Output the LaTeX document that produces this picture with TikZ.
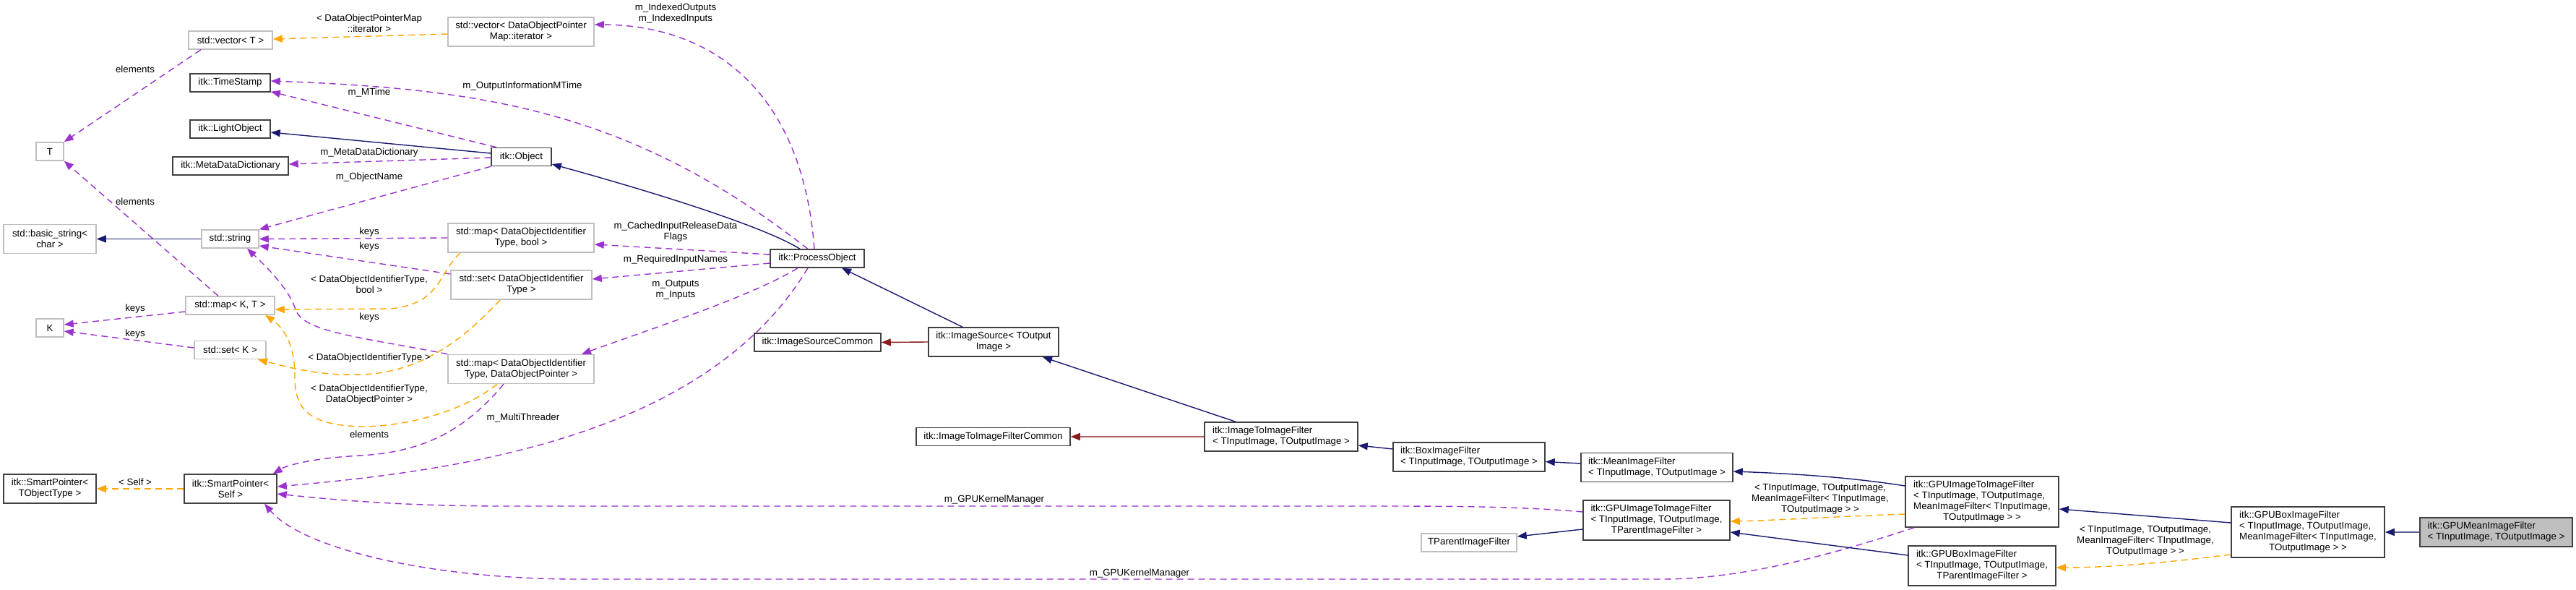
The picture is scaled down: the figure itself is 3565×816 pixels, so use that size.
\documentclass[tikz,border=0pt]{standalone}
\usepackage{fontspec}
\setmainfont{Liberation Sans}
\usetikzlibrary{arrows.meta}
\definecolor{pu}{HTML}{9A32CD}
\definecolor{orng}{HTML}{FFA500}
\definecolor{mblue}{HTML}{191970}
\definecolor{fbrick}{HTML}{8B1A1A}
\definecolor{dborder}{HTML}{404040}
\definecolor{lborder}{HTML}{BFBFBF}
\definecolor{selfill}{HTML}{BFBFBF}
\newcommand{\lbfont}{\fontsize{13.3}{15}\selectfont}
\newcommand{\cl}[1]{\multicolumn{1}{@{}c@{}}{#1}}
\begin{document}
\begin{tikzpicture}[x=1pt,y=-1pt,
  nb/.style={draw, inner sep=0pt, font=\lbfont, align=center, line width=1.5pt},
  dn/.style={nb, draw=dborder},
  un/.style={nb, draw=lborder},
  sz/.style 2 args={minimum width=#1pt, minimum height=#2pt},
  tip/.style={-{Triangle[length=13pt,width=10pt]}},
  use/.style={draw=pu, line width=1.4pt, dash pattern=on 9pt off 6pt, tip},
  tmpl/.style={draw=orng, line width=1.4pt, dash pattern=on 9pt off 6pt, tip},
  inh/.style={draw=mblue, line width=1.4pt, tip},
  inhsoft/.style={draw=mblue!70!white, line width=1.8pt, -{Triangle[length=13pt,width=10pt,color=mblue]}},
  priv/.style={draw=fbrick, line width=1.4pt, tip},
  privsoft/.style={draw=fbrick!70!white, line width=1.8pt, -{Triangle[length=13pt,width=10pt,color=fbrick]}},
  el/.style={font=\lbfont, align=center, inner sep=0pt}]
\useasboundingbox[fill=white] (0,0) rectangle (3565,816);

% nodes
\node[un, sz={116}{25}] (vecT) at (319,55.5) {std::vector< T >};
\node[dn, sz={111}{25}] (ts) at (318.5,114.5) {itk::TimeStamp};
\node[dn, sz={111}{25}] (lo) at (318.5,178.5) {itk::LightObject};
\node[un, sz={38}{25}] (T) at (69,209.5) {T};
\node[dn, sz={160}{25}] (mdd) at (319,229.5) {itk::MetaDataDictionary};
\node[un, sz={128}{40}] (bstr) at (69,330.5) {std::basic\_string<\\char >};
\node[un, sz={79}{25}] (str) at (318.5,330.5) {std::string};
\node[un, sz={123}{25}] (mapKT) at (318.5,422.5) {std::map< K, T >};
\node[un, sz={38}{25}] (K) at (69,453.5) {K};
\node[un, sz={99}{25}] (setK) at (318.5,484) {std::set< K >};
\node[dn, sz={128}{40}] (spT) at (69,676) {itk::SmartPointer<\\TObjectType >};
\node[dn, sz={128}{40}] (spS) at (319,676) {itk::SmartPointer<\\Self >};
\node[un, sz={202}{40}] (vecDO) at (721,44) {std::vector< DataObjectPointer\\Map::iterator >};
\node[dn, sz={83}{25}] (obj) at (721.5,217) {itk::Object};
\node[un, sz={202}{40}] (mapB) at (721,329) {std::map< DataObjectIdentifier\\Type, bool >};
\node[un, sz={195}{40}] (setD) at (721.5,394) {std::set< DataObjectIdentifier\\Type >};
\node[un, sz={202}{40}] (mapP) at (721,510.5) {std::map< DataObjectIdentifier\\Type, DataObjectPointer >};
\node[dn, sz={130}{25}] (po) at (1131,357.5) {itk::ProcessObject};
\node[dn, sz={175}{25}] (isc) at (1131.5,473.5) {itk::ImageSourceCommon};
\node[dn, sz={180}{40}] (is) at (1375,473) {itk::ImageSource< TOutput\\Image >};
\node[dn, sz={213}{25}] (iic) at (1374.5,604) {itk::ImageToImageFilterCommon};
\node[dn, sz={212}{40}, align=left] (ii) at (1773,604) {itk::ImageToImageFilter\\< TInputImage, TOutputImage >};
\node[dn, sz={210}{40}, align=left] (box) at (2033,632) {itk::BoxImageFilter\\< TInputImage, TOutputImage >};
\node[dn, sz={210}{40}, align=left] (mean) at (2293,646.5) {itk::MeanImageFilter\\< TInputImage, TOutputImage >};
\node[dn, sz={203}{55}] (gpiiP) at (2292.5,719.5) {\begin{tabular}{@{}l@{}}itk::GPUImageToImageFilter\\< TInputImage, TOutputImage,\\\cl{TParentImageFilter >}\end{tabular}};
\node[un, sz={132}{25}] (tpf) at (2033,750.5) {TParentImageFilter};
\node[dn, sz={212}{70}] (gpiiM) at (2743,694) {\begin{tabular}{@{}l@{}}itk::GPUImageToImageFilter\\< TInputImage, TOutputImage,\\\cl{MeanImageFilter< TInputImage,}\\\cl{TOutputImage > >}\end{tabular}};
\node[dn, sz={204}{55}] (gboxP) at (2743,782.5) {\begin{tabular}{@{}l@{}}itk::GPUBoxImageFilter\\< TInputImage, TOutputImage,\\\cl{TParentImageFilter >}\end{tabular}};
\node[dn, sz={212}{70}] (gboxM) at (3194,736) {\begin{tabular}{@{}l@{}}itk::GPUBoxImageFilter\\< TInputImage, TOutputImage,\\\cl{MeanImageFilter< TInputImage,}\\\cl{TOutputImage > >}\end{tabular}};
\node[dn, sz={211}{40}, align=left, fill=selfill] (gmean) at (3454.5,736) {itk::GPUMeanImageFilter\\< TInputImage, TOutputImage >};

% usage edges (purple)
\draw[use] ([xshift=-41pt]vecT.south) -- (T.north east);
\draw[use] ([xshift=-16.5pt]mapKT.north) -- (T.south east);
\draw[use] ([xshift=-13pt]po.north) .. controls (878,157) and (679,123) .. ([yshift=2.5pt]ts.east);
\draw[use] ([xshift=-34.5pt]obj.north) -- ([yshift=1pt]ts.south east);
\draw[use] ([yshift=-1pt]obj.west) -- ([yshift=2.5pt]mdd.east);
\draw[use] (obj.south west) -- (str.north east);
\draw[use] (mapB.west) -- (str.east);
\draw[use] ([yshift=15pt]setD.west) -- ([yshift=-9.5pt]str.east);
\draw[use] (mapP.north west) .. controls (500,466) and (420,460) .. (409,428) .. controls (400,400) and (370,370) .. ([xshift=23.5pt]str.south);
\draw[use] ([yshift=-8.5pt]mapKT.west) -- ([yshift=4.5pt]K.east);
\draw[use] ([yshift=3pt]setK.west) -- ([yshift=-4.5pt]K.east);
\draw[use] ([xshift=-24pt]mapP.south) .. controls (640,600) and (580,625) .. (500,630) .. controls (440,633) and (400,642) .. ([xshift=-6pt]spS.north east);
\draw[use] ([yshift=5.5pt]po.west) -- ([yshift=-9pt]mapB.east);
\draw[use] ([yshift=-6.5pt]po.west) -- ([yshift=8pt]setD.east);
\draw[use] ([xshift=-27pt]po.south) .. controls (1040,410) and (900,455) .. ([xshift=84pt]mapP.north);
\draw[use] ([xshift=-13pt]po.south) .. controls (980,600) and (650,650) .. ([yshift=3pt]spS.east);
\draw[use] ([xshift=-4pt]po.north) .. controls (1110,120) and (980,35) .. ([yshift=10pt]vecDO.east);
\draw[use] ([yshift=11.5pt]gpiiP.west) .. controls (2100,700) and (2000,700) .. (1900,700) -- (700,700) .. controls (550,700) and (450,690) .. ([yshift=-7pt]spS.east);
\draw[use] ([xshift=-94pt]gpiiM.south) .. controls (2550,762) and (2420,801) .. (2300,801) -- (800,801) .. controls (600,801) and (420,760) .. ([xshift=47pt]spS.south);

% template edges (orange)
\draw[tmpl] ([yshift=-3pt]vecDO.west) -- ([yshift=1.5pt]vecT.east);
\draw[tmpl] ([xshift=-84pt]mapB.south) .. controls (605,380) and (610,420) .. (540,427) -- ([yshift=-5.5pt]mapKT.east);
\draw[tmpl] ([xshift=-29.5pt]setD.south) .. controls (650,460) and (590,515) .. (500,518) .. controls (440,520) and (400,508) .. ([xshift=38.5pt]setK.south);
\draw[tmpl] ([xshift=-33pt]mapP.south) .. controls (640,570) and (560,590) .. (500,590) .. controls (420,588) and (408,560) .. (408,520) .. controls (408,480) and (395,455) .. ([xshift=48.5pt]mapKT.south);
\draw[tmpl] (spS.west) -- (spT.east);
\draw[tmpl] ([yshift=-17pt]gpiiM.west) .. controls (2550,714) and (2450,720) .. ([yshift=-1.5pt]gpiiP.east);
\draw[tmpl] ([yshift=-31pt]gboxM.west) .. controls (3000,778) and (2920,785) .. ([yshift=-2.5pt]gboxP.east);

% inheritance (blue)
\draw[inh] ([yshift=5pt]obj.west) -- ([yshift=-4.5pt]lo.east);
\draw[inh] (str.west) -- (bstr.east);
\draw[inh] ([xshift=-24pt]po.north) .. controls (1060,315) and (920,270) .. ([yshift=-10pt]obj.east);
\draw[inh] ([xshift=-43pt]is.north) -- ([xshift=34pt]po.south);
\draw[inh] ([xshift=-63pt]ii.north) -- ([xshift=68pt]is.south);
\draw[inh] ([yshift=11pt]box.west) -- ([yshift=-12pt]ii.east);
\draw[inh] ([yshift=5.5pt]mean.west) -- ([yshift=-6.5pt]box.east);
\draw[inh] ([yshift=22pt]gpiiM.west) .. controls (2560,660) and (2480,655) .. ([yshift=-5.5pt]mean.east);
\draw[inh] ([yshift=-12.5pt]gpiiP.west) -- ([yshift=8.5pt]tpf.east);
\draw[inh] ([yshift=14.5pt]gboxP.west) -- ([yshift=-16.5pt]gpiiP.east);
\draw[inh] ([yshift=13pt]gboxM.west) -- ([yshift=-10pt]gpiiM.east);
\draw[inhsoft] (gmean.west) -- (gboxM.east);

% private inheritance (red)
\draw[priv] (is.west) -- (isc.east);
\draw[privsoft] (ii.west) -- (iic.east);

% edge labels
\node[el] (l1) at (511,32) {< DataObjectPointerMap\\::iterator >};
\node[el] (l2) at (187,96) {elements};
\node[el] (l3) at (187,279) {elements};
\node[el] (l4) at (511,128) {m\_MTime};
\node[el] (l5) at (723,119) {m\_OutputInformationMTime};
\node[el] (l6) at (935,19) {m\_IndexedOutputs\\m\_IndexedInputs};
\node[el] (l7) at (511,211) {m\_MetaDataDictionary};
\node[el] (l8) at (511,245) {m\_ObjectName};
\node[el] (l9) at (511,321) {keys};
\node[el] (l10) at (511,341) {keys};
\node[el] (l11) at (511,393) {< DataObjectIdentifierType,\\bool >};
\node[el] (l12) at (187,427) {keys};
\node[el] (l13) at (187,462) {keys};
\node[el] (l14) at (511,439) {keys};
\node[el] (l15) at (511,495) {< DataObjectIdentifierType >};
\node[el] (l16) at (511,546) {< DataObjectIdentifierType,\\DataObjectPointer >};
\node[el] (l17) at (511,601) {elements};
\node[el] (l18) at (187,667) {< Self >};
\node[el] (l19) at (935,321) {m\_CachedInputReleaseData\\Flags};
\node[el] (l20) at (935,359) {m\_RequiredInputNames};
\node[el] (l21) at (935,401) {m\_Outputs\\m\_Inputs};
\node[el] (l22) at (724,578) {m\_MultiThreader};
\node[el] (l23) at (1376,691) {m\_GPUKernelManager};
\node[el] (l24) at (1577,793) {m\_GPUKernelManager};
\node[el] (l25) at (2519,690) {< TInputImage, TOutputImage,\\MeanImageFilter< TInputImage,\\TOutputImage > >};
\node[el] (l26) at (2969,748) {< TInputImage, TOutputImage,\\MeanImageFilter< TInputImage,\\TOutputImage > >};
\end{tikzpicture}
\end{document}
